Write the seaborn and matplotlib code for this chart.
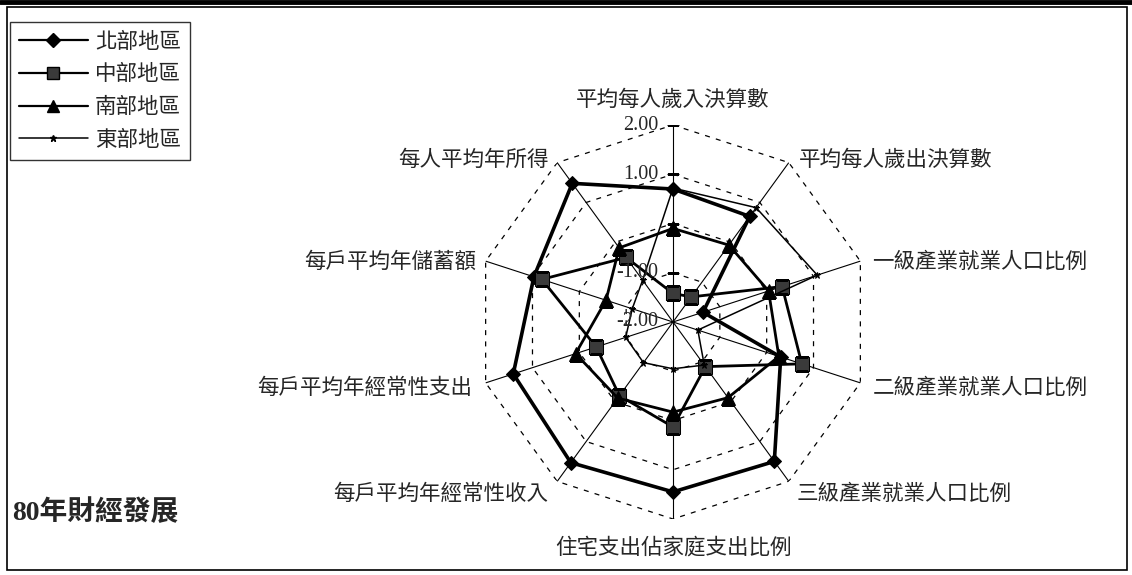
import numpy as np
import pandas as pd
import matplotlib
matplotlib.use("Agg")
import matplotlib.pyplot as plt
import seaborn as sns
from matplotlib.lines import Line2D
from matplotlib.patches import Rectangle

# axis labels, clockwise from the top
categories = [
    "平均每人歲入決算數", "平均每人歲出決算數", "一級產業就業人口比例",
    "二級產業就業人口比例", "三級產業就業人口比例", "住宅支出佔家庭支出比例",
    "每戶平均年經常性收入", "每戶平均年經常性支出", "每戶平均年儲蓄額",
    "每人平均年所得",
]
series_names = ["北部地區", "中部地區", "南部地區", "東部地區"]

north = [0.70, 0.65, -1.36, 0.30, 1.50, 1.45, 1.53, 1.41, 0.97, 1.48]
central = [-1.42, -1.37, 0.33, 0.75, -0.88, 0.13, -0.15, -0.36, 0.80, -0.38]
south = [-0.10, -0.07, 0.04, 0.26, -0.10, -0.17, -0.09, 0.08, -0.57, -0.14]
east = [0.72, 0.87, 1.08, -1.47, -0.92, -1.05, -0.98, -0.99, -1.13, -0.95]

grid_levels = [-1.0, 0.0, 1.0, 2.0]
tick_labels = {2.0: "2.00", 1.0: "1.00", -1.0: "-1.00", -2.0: "-2.00"}

sns.set_theme(style="white")
plt.rcParams["font.family"] = ["Noto Sans CJK TC", "DejaVu Sans"]

fig = plt.figure(figsize=(11.32, 5.75), dpi=100)
W, H = 1132, 575
cx, cy, R = 673, 322, 197
ax = fig.add_axes([(cx - R) / W, (H - cy - R) / H, 2 * R / W, 2 * R / H],
                  projection="polar")
ax.set_theta_zero_location("N")
ax.set_theta_direction(-1)
ax.set_rlim(-2, 2)
ax.grid(False)
ax.spines["polar"].set_visible(False)
ax.set_xticks([])
ax.set_yticks([])
ax.patch.set_alpha(0)

n = len(categories)
theta = np.linspace(0, 2 * np.pi, n, endpoint=False)
theta_closed = np.append(theta, 2 * np.pi)

# dashed decagon rings
for lv in grid_levels:
    ax.plot(theta_closed, [lv] * (n + 1), color="black", lw=0.9, ls=(0, (4, 5)))
# spokes
for t in theta:
    ax.plot([t, t], [-2, 2], color="black", lw=0.8)
# small ticks on the value axis
ax.plot([0] * 4, [-1, 0, 1, 2], ls="none", marker="_", ms=9, mew=0.9, color="black")

styles = {
    "北部地區": dict(marker="D", ms=7.5, lw=2.6, mfc="black", mec="black"),
    "中部地區": dict(marker="s", ms=10, lw=2.0, mfc="#3a3a3a", mec="black"),
    "南部地區": dict(marker="^", ms=10, lw=2.0, mfc="black", mec="black"),
    "東部地區": dict(marker="*", ms=5, lw=1.1, mfc="black", mec="black"),
}

for name, vals in zip(series_names, [north, central, south, east]):
    st = styles[name]
    df = pd.DataFrame({"theta": theta_closed, "value": vals + vals[:1]})
    sns.lineplot(data=df, x="theta", y="value", ax=ax, sort=False, estimator=None,
                 color="black", marker=st["marker"], markersize=st["ms"],
                 linewidth=st["lw"], markerfacecolor=st["mfc"],
                 markeredgecolor=st["mec"], legend=False)
ax.set_xlabel("")
ax.set_ylabel("")
ax.set_rlim(-2, 2)

# category labels (offsets in pixels from the spoke tip)
label_pos = [
    (0, 25, "center"), (10, 3, "left"), (12, -1, "left"), (12, -5, "left"),
    (8, -12, "left"), (0, -29, "center"), (-9, -12, "right"), (-13, -5, "right"),
    (-9, -1, "right"), (-9, 3, "right"),
]
for t, lab, (dx, dy, ha) in zip(theta, categories, label_pos):
    ax.annotate(lab, xy=(t, 2), xytext=(dx * 0.72, dy * 0.72),
                textcoords="offset points", ha=ha, va="center", fontsize=15.5)

# value labels along the top spoke
for lv, txt in tick_labels.items():
    ax.annotate(txt, xy=(0, lv), xytext=(-15 * 0.72, 0), textcoords="offset points",
                ha="right", va="center", fontsize=14.5, family="Liberation Serif")

# legend
handles = []
for name in series_names:
    st = styles[name]
    handles.append(Line2D([], [], color="black", marker=st["marker"], ms=st["ms"] * 0.9,
                          lw=min(st["lw"], 1.6), mfc=st["mfc"], mec=st["mec"]))
leg = fig.legend(handles, series_names, loc="upper left",
                 bbox_to_anchor=(10 / W, 1 - 22 / H), frameon=True, fancybox=False,
                 edgecolor="black", fontsize=15.5, handlelength=3.2,
                 handletextpad=0.35, labelspacing=0.5, borderpad=0.4,
                 borderaxespad=0)
leg.get_frame().set_linewidth(1.0)

# title
fig.text(12 / W, 1 - 513 / H, "80年財經發展", fontsize=20, fontweight="bold",
         ha="left", va="center", family=["Liberation Serif", "Noto Sans CJK TC"])

# outer frame
fig.patches.append(Rectangle((7 / W, 5 / H), (1127 - 7) / W, (568 - 5) / H,
                             transform=fig.transFigure, fill=False,
                             ec="black", lw=1.2))
fig.add_artist(Line2D([0, 1], [1 - 2 / H] * 2, transform=fig.transFigure,
                      color="black", lw=3.5))

fig.savefig("out.png", dpi=100)
